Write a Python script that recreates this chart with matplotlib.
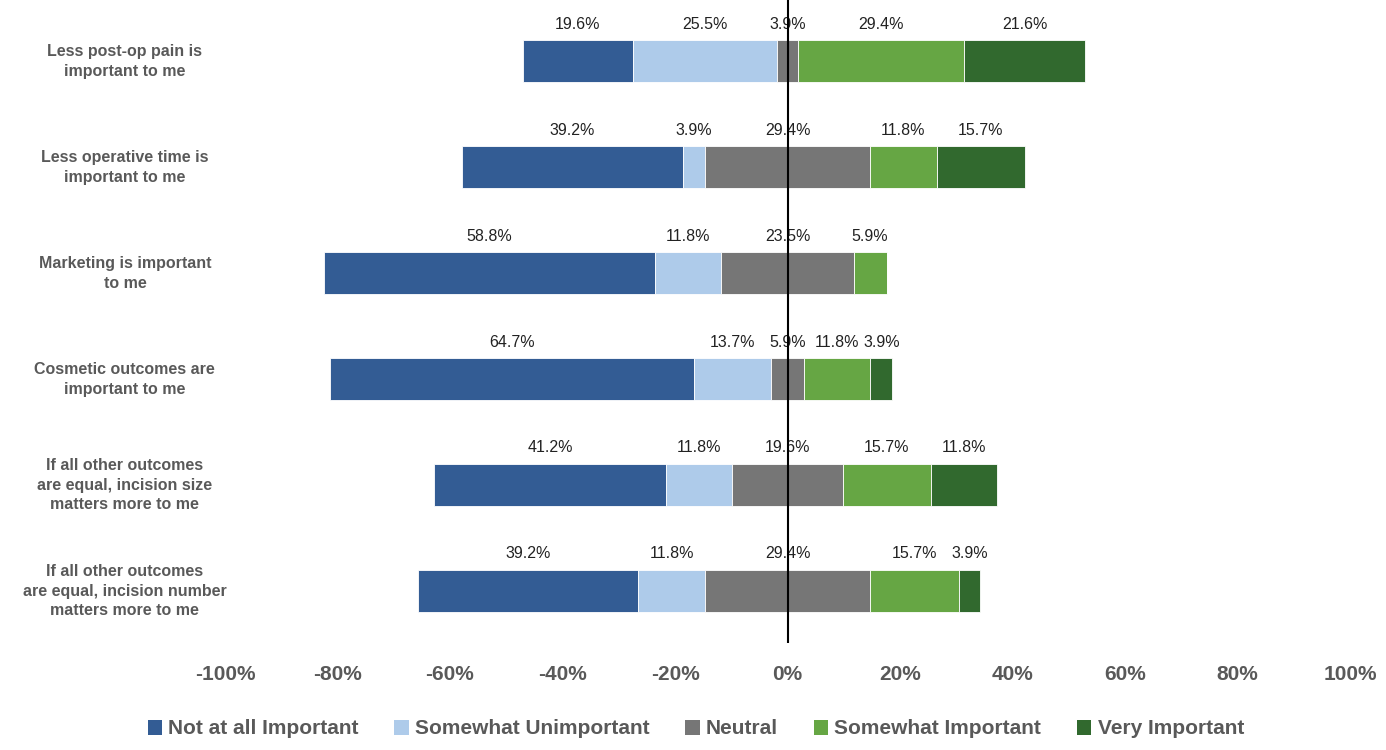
import matplotlib
matplotlib.use("Agg")
import matplotlib.pyplot as plt
from matplotlib.patches import Patch
from matplotlib.ticker import FuncFormatter
import numpy as np

FONT = ["Liberation Sans", "DejaVu Sans"]

questions = [
    "Less post-op pain is\nimportant to me",
    "Less operative time is\nimportant to me",
    "Marketing is important\nto me",
    "Cosmetic outcomes are\nimportant to me",
    "If all other outcomes\nare equal, incision size\nmatters more to me",
    "If all other outcomes\nare equal, incision number\nmatters more to me",
]
categories = ["Not at all Important", "Somewhat Unimportant", "Neutral",
              "Somewhat Important", "Very Important"]
not_at_all = [19.6, 39.2, 58.8, 64.7, 41.2, 39.2]
somewhat_unimp = [25.5, 3.9, 11.8, 13.7, 11.8, 11.8]
neutral = [3.9, 29.4, 23.5, 5.9, 19.6, 29.4]
somewhat_imp = [29.4, 11.8, 5.9, 11.8, 15.7, 15.7]
very_imp = [21.6, 15.7, 0.0, 3.9, 11.8, 3.9]
xticks = [-100, -80, -60, -40, -20, 0, 20, 40, 60, 80, 100]

colors = ["#335C94", "#AECBEA", "#767676", "#66A644", "#31692E"]

fig = plt.figure(figsize=(13.86, 7.5), dpi=100)
ax = fig.add_axes([225 / 1386, 1 - 643 / 750, 1125 / 1386, 643 / 750])

y = np.arange(len(questions))
n1 = np.array(not_at_all)
n2 = np.array(somewhat_unimp)
n3 = np.array(neutral)
n4 = np.array(somewhat_imp)
n5 = np.array(very_imp)

# neutral is split in half around zero
starts = [-(n1 + n2 + n3 / 2), -(n2 + n3 / 2), -n3 / 2, n3 / 2, n3 / 2 + n4]
widths = [n1, n2, n3, n4, n5]

h = 0.4
for k in range(5):
    ax.barh(y, widths[k], left=starts[k], height=h, color=colors[k],
            edgecolor="white", linewidth=0.6, zorder=2)
    for i in range(len(y)):
        if widths[k][i] <= 0:
            continue
        cx = starts[k][i] + widths[k][i] / 2
        ax.text(cx, y[i] - 0.35, f"{widths[k][i]:.1f}%", ha="center", va="center",
                fontsize=11.5, family=FONT, color="#222222", zorder=3)

ax.axvline(0, color="black", linewidth=1.5, zorder=4)

ax.set_xlim(-100, 100)
ax.set_ylim(len(y) - 1 + 0.49, -0.577)
ax.set_xticks(xticks)
ax.xaxis.set_major_formatter(FuncFormatter(lambda v, p: f"{v:.0f}%"))
ax.tick_params(axis="x", length=0, pad=16, labelsize=15, labelcolor="#595959")
for lab in ax.get_xticklabels():
    lab.set_fontweight("bold")
    lab.set_family(FONT)
ax.set_yticks([])
for s in ax.spines.values():
    s.set_visible(False)

for i, q in enumerate(questions):
    ax.text(-0.089, y[i], q, transform=ax.get_yaxis_transform(), ha="center",
            va="center", fontsize=11.5, fontweight="bold", family=FONT,
            color="#595959", linespacing=1.4)

handles = [Patch(facecolor=c, edgecolor="none") for c in colors]
leg = fig.legend(handles, categories, loc="center", ncol=5,
                 bbox_to_anchor=(0.502, 1 - 729 / 750), frameon=False,
                 handlelength=0.7, handleheight=0.75, handletextpad=0.3,
                 columnspacing=1.7,
                 prop={"family": FONT, "size": 15, "weight": "bold"})
for t in leg.get_texts():
    t.set_color("#595959")

fig.savefig("out.png", dpi=100)
